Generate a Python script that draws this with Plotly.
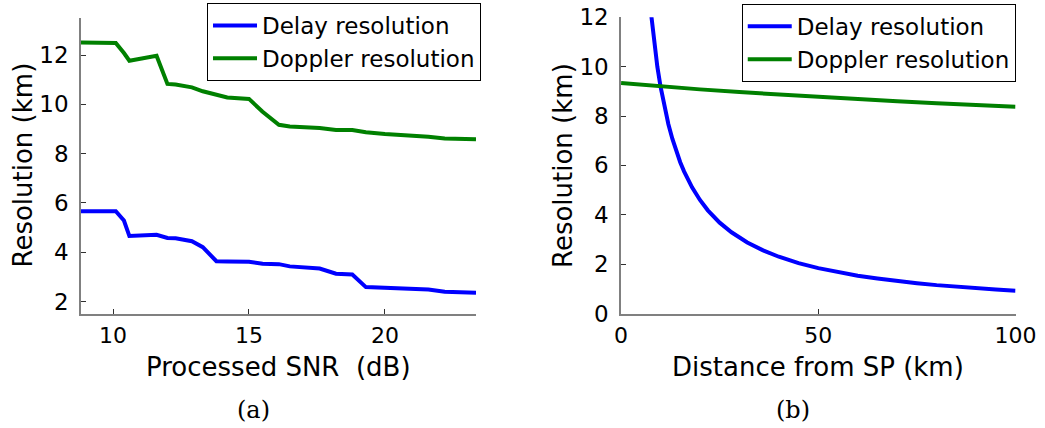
import plotly.graph_objects as go

# (a) resolution vs processed SNR
snr_db = [8.82, 10.1, 10.4, 10.6, 11.6, 12.0, 12.3, 12.9, 13.3, 13.8, 14.2, 15.0,
          15.5, 16.1, 16.5, 17.6, 18.2, 18.8, 19.3, 20.0, 20.6, 21.6, 22.2, 22.8, 23.35]
delay_res_a = [5.67, 5.67, 5.29, 4.66, 4.71, 4.58, 4.57, 4.45, 4.21, 3.64, 3.63, 3.62,
               3.54, 3.52, 3.43, 3.34, 3.13, 3.10, 2.59, 2.57, 2.55, 2.49, 2.40, 2.40, 2.36]
doppler_res_a = [12.51, 12.49, 12.08, 11.77, 11.97, 10.83, 10.80, 10.69, 10.53, 10.40, 10.28, 10.22,
                 9.70, 9.17, 9.10, 9.04, 8.96, 8.96, 8.87, 8.80, 8.77, 8.69, 8.62, 8.62, 8.58]

# (b) resolution vs distance from the specular point
dist_delay_km = [7.5, 8.5, 9.2, 10, 11, 12, 13, 14, 15, 16, 18, 20, 22, 25, 28, 32, 36,
                 40, 45, 50, 55, 60, 65, 70, 75, 80, 85, 90, 95, 100]
delay_res_b = [12.3, 10.8, 10.0, 9.2, 8.36, 7.67, 7.08, 6.57, 6.13, 5.75, 5.11, 4.60, 4.18,
               3.68, 3.29, 2.88, 2.56, 2.30, 2.04, 1.84, 1.67, 1.53, 1.42, 1.31, 1.23,
               1.15, 1.08, 1.02, 0.97, 0.92]
dist_doppler_km = [0, 10, 20, 30, 40, 50, 60, 70, 80, 90, 100]
doppler_res_b = [9.34, 9.20, 9.08, 8.97, 8.87, 8.78, 8.68, 8.60, 8.52, 8.45, 8.38]

x_ticks_a = [10, 15, 20]
y_ticks_a = [2, 4, 6, 8, 10, 12]
x_ticks_b = [0, 50, 100]
y_ticks_b = [0, 2, 4, 6, 8, 10, 12]

BLUE = "#0000ff"
GREEN = "#008000"
FONT = "DejaVu Sans"
LW = 4

fig = go.Figure()
fig.add_trace(go.Scatter(x=snr_db, y=delay_res_a, mode="lines", name="Delay resolution",
                         line=dict(color=BLUE, width=LW), xaxis="x", yaxis="y", legend="legend"))
fig.add_trace(go.Scatter(x=snr_db, y=doppler_res_a, mode="lines", name="Doppler resolution",
                         line=dict(color=GREEN, width=LW), xaxis="x", yaxis="y", legend="legend"))
fig.add_trace(go.Scatter(x=dist_delay_km, y=delay_res_b, mode="lines", name="Delay resolution",
                         line=dict(color=BLUE, width=LW), xaxis="x2", yaxis="y2", legend="legend2"))
fig.add_trace(go.Scatter(x=dist_doppler_km, y=doppler_res_b, mode="lines", name="Doppler resolution",
                         line=dict(color=GREEN, width=LW), xaxis="x2", yaxis="y2", legend="legend2"))

axis_common = dict(showgrid=False, zeroline=False, showline=True, linecolor="#808080",
                   linewidth=1.5, ticks="inside", ticklen=5, tickcolor="#303030",
                   mirror=False, automargin=False)
tick_font = dict(family=FONT, size=22, color="#000000")

ydom = [0.2664, 0.9579]
fig.update_layout(
    template="none",
    width=1045, height=428, autosize=False,
    margin=dict(l=0, r=0, t=0, b=0, pad=0),
    paper_bgcolor="white", plot_bgcolor="white",
    xaxis=dict(domain=[0.0775, 0.4555], range=[8.82, 23.35], tickvals=x_ticks_a,
               anchor="y", ticklabelstandoff=1, tickfont=tick_font, **axis_common),
    yaxis=dict(domain=ydom, range=[1.5, 13.5], tickvals=y_ticks_a, anchor="x",
               ticklabelstandoff=6, tickfont=dict(tick_font, size=23), **axis_common),
    xaxis2=dict(domain=[0.5943, 0.9718], range=[0, 100], tickvals=x_ticks_b,
                anchor="y2", ticklabelstandoff=1, tickfont=tick_font, **axis_common),
    yaxis2=dict(domain=[0.2675, 0.9596], range=[0, 12], tickvals=y_ticks_b, anchor="x2",
                ticklabelstandoff=6, tickfont=dict(tick_font, size=23), **axis_common),
    legend=dict(x=0.4603, y=0.993, xanchor="right", yanchor="top",
                bgcolor="white", bordercolor="#000000", borderwidth=1,
                font=dict(family=FONT, size=23, color="#000000"), itemwidth=44),
    legend2=dict(x=0.972, y=0.991, xanchor="right", yanchor="top",
                 bgcolor="white", bordercolor="#000000", borderwidth=1,
                 font=dict(family=FONT, size=23, color="#000000"), itemwidth=44),
    showlegend=True,
)

title_font = dict(family=FONT, size=26, color="#000000")
cap_font = dict(family="DejaVu Serif", size=24, color="#000000")
annotations = [
    dict(text="Processed SNR\u00a0 (dB)", x=278.5 / 1045, y=1 - 367 / 428, font=title_font),
    dict(text="Distance from SP (km)", x=817.5 / 1045, y=1 - 367 / 428, font=title_font),
    dict(text="Resolution (km)", x=22.5 / 1045, y=1 - 165 / 428, textangle=-90, font=title_font),
    dict(text="Resolution (km)", x=562.5 / 1045, y=1 - 165.5 / 428, textangle=-90, font=title_font),
    dict(text="(a)", x=253 / 1045, y=1 - 410 / 428, font=cap_font),
    dict(text="(b)", x=793 / 1045, y=1 - 410 / 428, font=cap_font),
]
for a in annotations:
    fig.add_annotation(xref="paper", yref="paper", showarrow=False,
                       xanchor="center", yanchor="middle", **a)

fig.write_html("out.html")
